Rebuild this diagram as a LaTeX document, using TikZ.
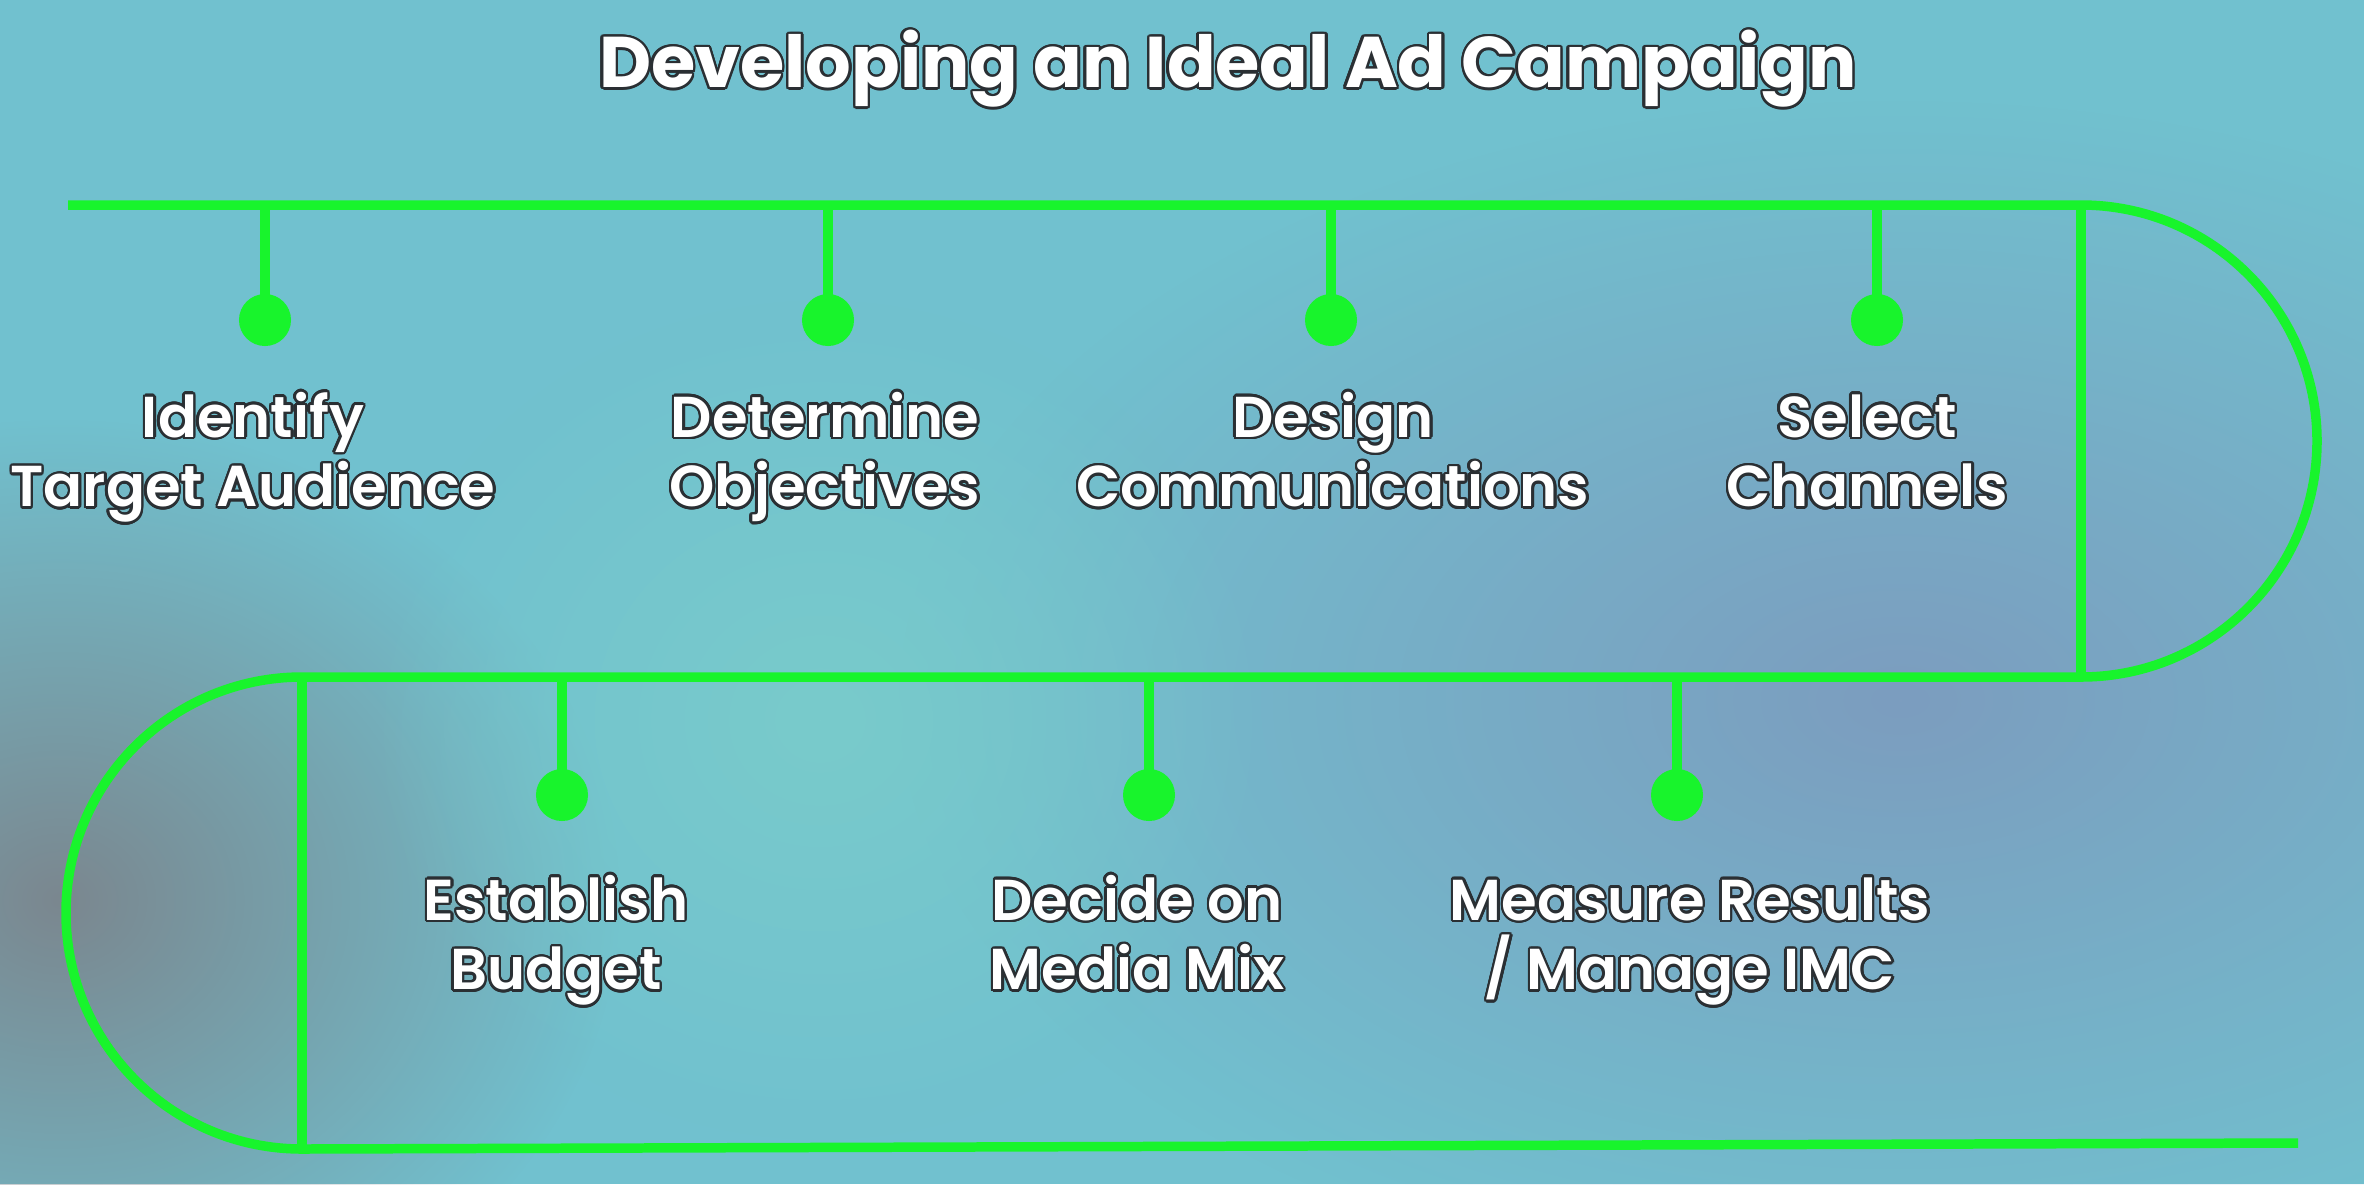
\documentclass[tikz,border=0pt]{standalone}
\usepackage{fontspec}
\setmainfont{Poppins}
\newfontfamily\labelfont{Poppins SemiBold}
\newfontfamily\titlefont{Poppins Bold}
\usepackage{contour}
\usetikzlibrary{fadings}
\definecolor{trackGreen}{HTML}{18F42C}
\definecolor{bgTeal}{HTML}{71C1CF}
\definecolor{bgSteel}{HTML}{7C9DBF}
\definecolor{bgGrey}{HTML}{7B878F}
\definecolor{bgLight}{HTML}{79CBCB}
\definecolor{textEdge}{HTML}{2A2F33}
\contourlength{0.7pt}
\contournumber{20}
\newcommand{\edged}[1]{\smash{\contour{textEdge}{#1}}\strut}
\tikzfading[name=soft blob, inner color=transparent!0, outer color=transparent!100]

\begin{document}
\begin{tikzpicture}[x=0.01cm, y=-0.01cm,
      track/.style={draw=trackGreen, line width=2.7pt},
      stepdot/.style={circle, fill=trackGreen, minimum size=0.52cm, inner sep=0pt},
      steplabel/.style={text=white, align=center, font=\labelfont\fontsize{16.4}{19.8}\selectfont}]
      \useasboundingbox (0,0) rectangle (2364,1184);
      % Blurred backdrop
      \begin{scope}
            \clip (0,0) rectangle (2364,1184);
            \fill[bgTeal] (0,0) rectangle (2364,1184);
            \fill[bgSteel, path fading=soft blob] (1900,700) ellipse (1000 and 600);
            \fill[bgGrey, path fading=soft blob] (60,900) ellipse (560 and 480);
            \fill[bgLight, path fading=soft blob] (820,720) ellipse (450 and 420);
      \end{scope}

      % Title
      \node[text=white, font=\titlefont\fontsize{20.4}{25}\selectfont] (title) at (1228,70) {\contour{textEdge}{Developing an Ideal Ad Campaign}};

      % Winding track
      \draw[track] (68,205) -- (2081,205) arc (-90:90:236) -- (302,677) arc (-90:-270:236) -- (2298,1143);
      \draw[track] (2081,205) -- (2081,677);
      \draw[track] (302,677) -- (302,1149);

      % Top row of steps
      \foreach \n/\x in {A/265, B/828, C/1331, D/1877} {
            \coordinate (top\n) at (\x,205);
            \node[stepdot] (dot\n) at (\x,320) {};
            \draw[track] (top\n) -- (dot\n.center);
      }
      \node[steplabel] (labA) at (253,458) {\edged{Identify}\\\edged{Target Audience}};
      \node[steplabel] (labB) at (825,458) {\edged{Determine}\\\edged{Objectives}};
      \node[steplabel] (labC) at (1333,458) {\edged{Design}\\\edged{Communications}};
      \node[steplabel] (labD) at (1867,458) {\edged{Select}\\\edged{Channels}};

      % Bottom row of steps
      \foreach \n/\x in {E/562, F/1149, G/1677} {
            \coordinate (top\n) at (\x,677);
            \node[stepdot] (dot\n) at (\x,795) {};
            \draw[track] (top\n) -- (dot\n.center);
      }
      \node[steplabel] (labE) at (556,941) {\edged{Establish}\\\edged{Budget}};
      \node[steplabel] (labF) at (1137,941) {\edged{Decide on}\\\edged{Media Mix}};
      \node[steplabel] (labG) at (1690,941) {\edged{Measure Results}\\\edged{/ Manage IMC}};
\end{tikzpicture}
\end{document}
